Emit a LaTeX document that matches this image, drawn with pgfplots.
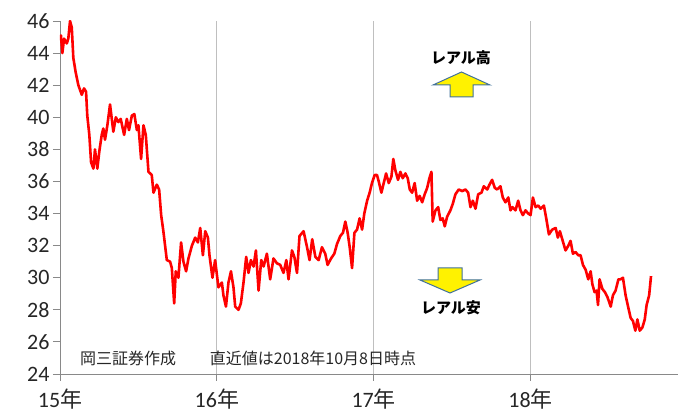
\documentclass[border=0pt]{standalone}
\usepackage{fontspec}
\setmainfont{Carlito}
\newfontfamily\jp{Noto Sans CJK JP}
\usepackage{pgfplots}
\pgfplotsset{compat=1.18}

\definecolor{gridgray}{RGB}{191,191,191}
\definecolor{axisgray}{RGB}{137,137,137}
\definecolor{arrowedge}{RGB}{65,113,156}

% BRL/JPY daily close, x = years since start of 2015
\pgfplotstableread{
x      y
0.000  44.8
0.006  45.1
0.015  44.0
0.026  44.9
0.043  44.6
0.053  44.9
0.064  46.0
0.075  45.6
0.085  43.7
0.100  42.8
0.117  42.0
0.139  41.4
0.153  41.8
0.166  41.6
0.174  40.1
0.187  38.9
0.198  37.2
0.213  36.8
0.223  38.0
0.238  36.8
0.251  37.9
0.266  38.9
0.276  39.3
0.287  38.6
0.302  39.5
0.319  40.8
0.340  39.1
0.356  40.0
0.372  39.7
0.387  39.9
0.409  38.9
0.426  39.9
0.440  39.2
0.458  40.1
0.474  40.2
0.490  39.2
0.500  39.5
0.517  37.4
0.532  39.5
0.547  38.9
0.564  36.6
0.585  36.4
0.596  35.3
0.617  35.8
0.632  35.5
0.645  33.9
0.659  32.9
0.681  31.1
0.702  31.0
0.713  30.6
0.728  28.4
0.738  30.4
0.755  30.0
0.772  32.2
0.787  31.0
0.804  30.4
0.819  31.2
0.841  32.0
0.862  32.5
0.879  32.2
0.894  33.1
0.911  31.4
0.926  32.9
0.943  32.5
0.953  31.4
0.972  30.0
0.989  31.1
1.010  29.4
1.032  29.7
1.042  28.9
1.058  28.2
1.074  29.7
1.090  30.4
1.106  29.4
1.117  28.2
1.138  28.0
1.153  28.4
1.170  29.7
1.187  31.3
1.202  30.3
1.217  31.1
1.234  30.7
1.249  31.7
1.266  29.2
1.283  31.1
1.298  30.7
1.319  31.5
1.340  29.9
1.361  31.2
1.383  30.9
1.404  30.8
1.425  30.3
1.443  31.1
1.457  29.9
1.479  31.7
1.494  31.3
1.511  30.3
1.527  32.6
1.553  32.9
1.575  31.9
1.591  31.1
1.608  32.4
1.628  31.3
1.649  31.1
1.670  31.9
1.691  31.5
1.706  30.8
1.728  31.2
1.749  31.5
1.766  32.1
1.787  32.6
1.804  32.8
1.819  33.5
1.834  32.8
1.847  31.9
1.862  30.6
1.877  32.8
1.894  33.0
1.910  33.7
1.926  33.0
1.940  34.0
1.958  34.8
1.974  35.3
1.989  35.9
2.006  36.4
2.021  36.4
2.032  36.0
2.049  35.3
2.064  35.9
2.079  36.5
2.096  35.9
2.113  36.3
2.125  37.4
2.138  36.7
2.155  36.1
2.170  36.6
2.185  36.2
2.202  36.5
2.217  36.2
2.230  35.5
2.245  35.3
2.261  35.9
2.277  34.8
2.293  35.1
2.309  34.7
2.325  35.2
2.341  35.6
2.355  36.2
2.368  36.6
2.376  33.5
2.394  34.2
2.411  34.4
2.425  33.6
2.440  33.7
2.453  33.2
2.468  33.8
2.489  34.2
2.504  34.6
2.521  35.2
2.542  35.5
2.564  35.4
2.585  35.5
2.602  35.3
2.617  34.4
2.632  34.8
2.649  34.3
2.666  35.2
2.687  35.3
2.702  35.7
2.724  35.5
2.738  35.8
2.755  36.1
2.772  35.6
2.787  35.5
2.808  35.7
2.823  35.0
2.840  34.7
2.858  35.0
2.872  34.2
2.885  34.4
2.904  34.2
2.921  34.8
2.936  34.2
2.951  33.9
2.968  34.2
2.985  34.0
3.000  33.9
3.015  35.0
3.032  34.4
3.049  34.5
3.064  34.3
3.085  34.5
3.100  33.7
3.117  32.7
3.138  33.0
3.160  33.1
3.174  32.5
3.187  32.9
3.202  32.4
3.223  31.7
3.241  32.0
3.255  32.3
3.270  31.5
3.287  31.6
3.304  31.4
3.319  31.4
3.334  30.8
3.351  30.5
3.368  29.9
3.383  30.4
3.394  29.6
3.408  29.1
3.421  29.2
3.430  28.3
3.440  29.9
3.458  29.3
3.474  29.1
3.490  28.8
3.511  28.2
3.525  28.9
3.542  29.2
3.560  29.9
3.574  29.9
3.589  30.0
3.606  28.9
3.624  28.1
3.638  27.5
3.653  27.3
3.668  26.7
3.681  27.4
3.696  26.7
3.713  26.9
3.728  27.4
3.740  28.3
3.756  28.9
3.768  30.1
}\brljpy

\begin{document}
\begin{tikzpicture}
\useasboundingbox (-60pt,-41pt) rectangle (618pt,374pt);
\begin{axis}[
    at={(0pt,0pt)}, anchor=south west,
    width=618pt, height=353pt, scale only axis,
    xmin=0, xmax=3.94, ymin=24, ymax=46,
    axis x line*=bottom, axis y line*=left,
    axis line style={axisgray, line width=0.9pt},
    xtick={0,1,2,3},
    xticklabels={15{\jp 年},16{\jp 年},17{\jp 年},18{\jp 年}},
    ytick={24,26,...,46},
    xmajorgrids=true,
    grid style={gridgray, line width=0.9pt},
    tick align=outside,
    major tick length=7pt,
    tick style={axisgray, line width=0.9pt},
    tick label style={font=\fontsize{22}{26}\selectfont, text=black!85},
    /pgf/number format/assume math mode=true,
    xticklabel style={yshift=-4pt},
  ]
  \addplot[red, line width=2.6pt, line join=round] table[x=x, y=y] {\brljpy};
\end{axis}

% annotations (pt from the axis corner)
\node[font=\jp\bfseries\fontsize{15}{18}\selectfont] at (401pt,316pt) {レアル高};
\draw[arrowedge, line width=1pt, fill=yellow]
  (401.5pt,302pt) -- (430pt,289pt) -- (413pt,289pt) -- (413pt,277pt)
  -- (390pt,277pt) -- (390pt,289pt) -- (373pt,289pt) -- cycle;
\draw[arrowedge, line width=1pt, fill=yellow]
  (390pt,81pt) -- (420pt,94pt) -- (402pt,94pt) -- (402pt,106pt)
  -- (378pt,106pt) -- (378pt,94pt) -- (360pt,94pt) -- cycle;
\node[font=\jp\bfseries\fontsize{15}{18}\selectfont] at (391pt,66pt) {レアル安};
\node[font=\jp\fontsize{16}{19}\selectfont, text=black!85] at (68pt,16pt) {岡三証券作成};
\node[font=\jp\fontsize{16}{19}\selectfont, text=black!85] at (253pt,16pt) {直近値は2018年10月8日時点};
\end{tikzpicture}
\end{document}
